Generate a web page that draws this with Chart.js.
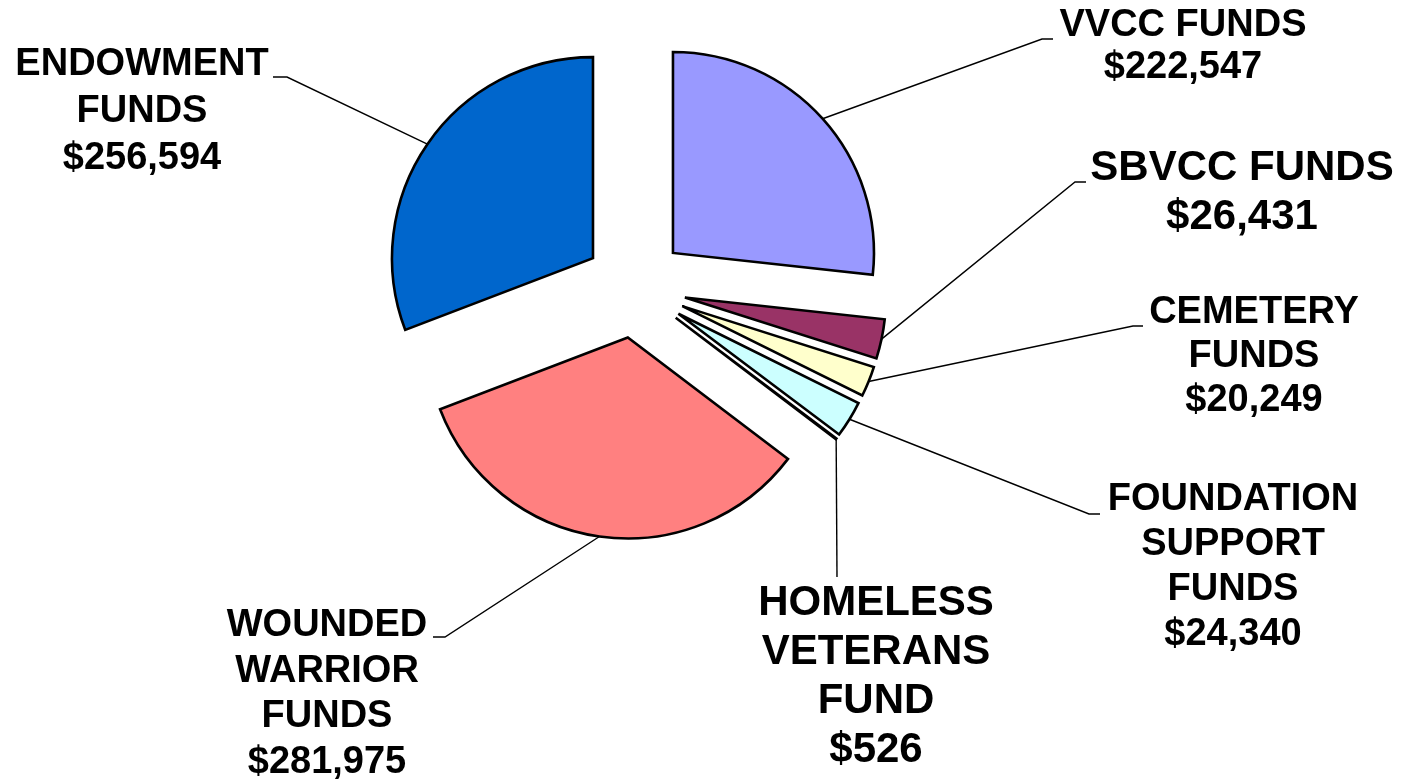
<!DOCTYPE html>
<html>
<head>
<meta charset="utf-8">
<title>Funds</title>
<script src="https://cdn.jsdelivr.net/npm/chart.js@4/dist/chart.umd.min.js"></script>
<style>
  html, body { margin: 0; padding: 0; background: #fff; }
  #wrap { width: 1404px; height: 781px; position: relative; }
</style>
</head>
<body>
<div id="wrap"><canvas id="funds"></canvas></div>
<script>
// data, clockwise from 12 o'clock
const categories = [
  ['VVCC FUNDS'],
  ['SBVCC FUNDS'],
  ['CEMETERY', 'FUNDS'],
  ['FOUNDATION', 'SUPPORT', 'FUNDS'],
  ['HOMELESS', 'VETERANS', 'FUND'],
  ['WOUNDED', 'WARRIOR', 'FUNDS'],
  ['ENDOWMENT', 'FUNDS']
];
const amounts = [222547, 26431, 20249, 24340, 526, 281975, 256594];
const sliceColors = ['#9999FF', '#993366', '#FFFFCC', '#CCFFFF', '#660066', '#FF8080', '#0066CC'];

// how far every slice is pulled out from the centre (px)
const EXPLODE = 51;

// where each label sits and where its leader line bends
const labelLayout = [
  { x: 1183, y: 26,  size: 38, lh: 42,   elbow: [1042, 39],  end: [1053, 39] },
  { x: 1242, y: 168, size: 42, lh: 49,   elbow: [1075, 182], end: [1086, 182] },
  { x: 1254, y: 313, size: 38, lh: 44,   elbow: [1133, 326], end: [1143, 326] },
  { x: 1233, y: 500, size: 38, lh: 45,   elbow: [1089, 514], end: [1100, 514] },
  { x: 876,  y: 603, size: 42, lh: 49,   elbow: [837, 577],  end: [837, 577] },
  { x: 327,  y: 626, size: 38, lh: 45.5, elbow: [445, 637],  end: [433, 637] },
  { x: 142,  y: 65,  size: 38, lh: 47,   elbow: [287, 77],   end: [273, 77] }
];

function money(v) {
  return '$' + v.toLocaleString('en-US');
}

// draw every arc pushed out along its own mid angle
const explodePlugin = {
  id: 'explode',
  beforeDatasetDraw(chart, args) {
    const ctx = chart.ctx;
    args.meta.data.forEach(function(arc) {
      const mid = (arc.startAngle + arc.endAngle) / 2;
      ctx.save();
      ctx.translate(Math.cos(mid) * EXPLODE, Math.sin(mid) * EXPLODE);
      arc.draw(ctx, chart.chartArea);
      ctx.restore();
    });
    return false;
  }
};

const labelPlugin = {
  id: 'sliceLabels',
  afterDraw(chart) {
    const ctx = chart.ctx;
    const meta = chart.getDatasetMeta(0);
    meta.data.forEach(function(arc, i) {
      const lay = labelLayout[i];
      const mid = (arc.startAngle + arc.endAngle) / 2;
      const r = arc.outerRadius + EXPLODE;
      const ax = arc.x + Math.cos(mid) * r;
      const ay = arc.y + Math.sin(mid) * r;

      ctx.save();
      ctx.strokeStyle = '#000';
      ctx.lineWidth = 1.4;
      ctx.beginPath();
      ctx.moveTo(ax, ay);
      ctx.lineTo(lay.elbow[0], lay.elbow[1]);
      ctx.lineTo(lay.end[0], lay.end[1]);
      ctx.stroke();

      const lines = categories[i].concat([money(amounts[i])]);
      ctx.fillStyle = '#000';
      ctx.font = 'bold ' + lay.size + 'px "Liberation Sans", Arial, sans-serif';
      ctx.textAlign = 'center';
      ctx.textBaseline = 'middle';
      lines.forEach(function(t, k) {
        ctx.fillText(t, lay.x, lay.y + k * lay.lh);
      });
      ctx.restore();
    });
  }
};

const ctx = document.getElementById('funds').getContext('2d');
const fundsChart = new Chart(ctx, {
  type: 'pie',
  data: {
    labels: categories,
    datasets: [{
      data: amounts,
      backgroundColor: sliceColors,
      borderColor: '#000',
      borderWidth: 2.6,
      borderJoinStyle: 'miter',
      offset: 0
    }]
  },
  options: {
    responsive: true,
    maintainAspectRatio: false,
    animation: false,
    radius: 201,
    layout: {
      padding: { left: 0, right: 134, top: 0, bottom: 207 }
    },
    plugins: {
      legend: { display: false },
      tooltip: { enabled: false }
    }
  },
  plugins: [explodePlugin, labelPlugin]
});
</script>
</body>
</html>
